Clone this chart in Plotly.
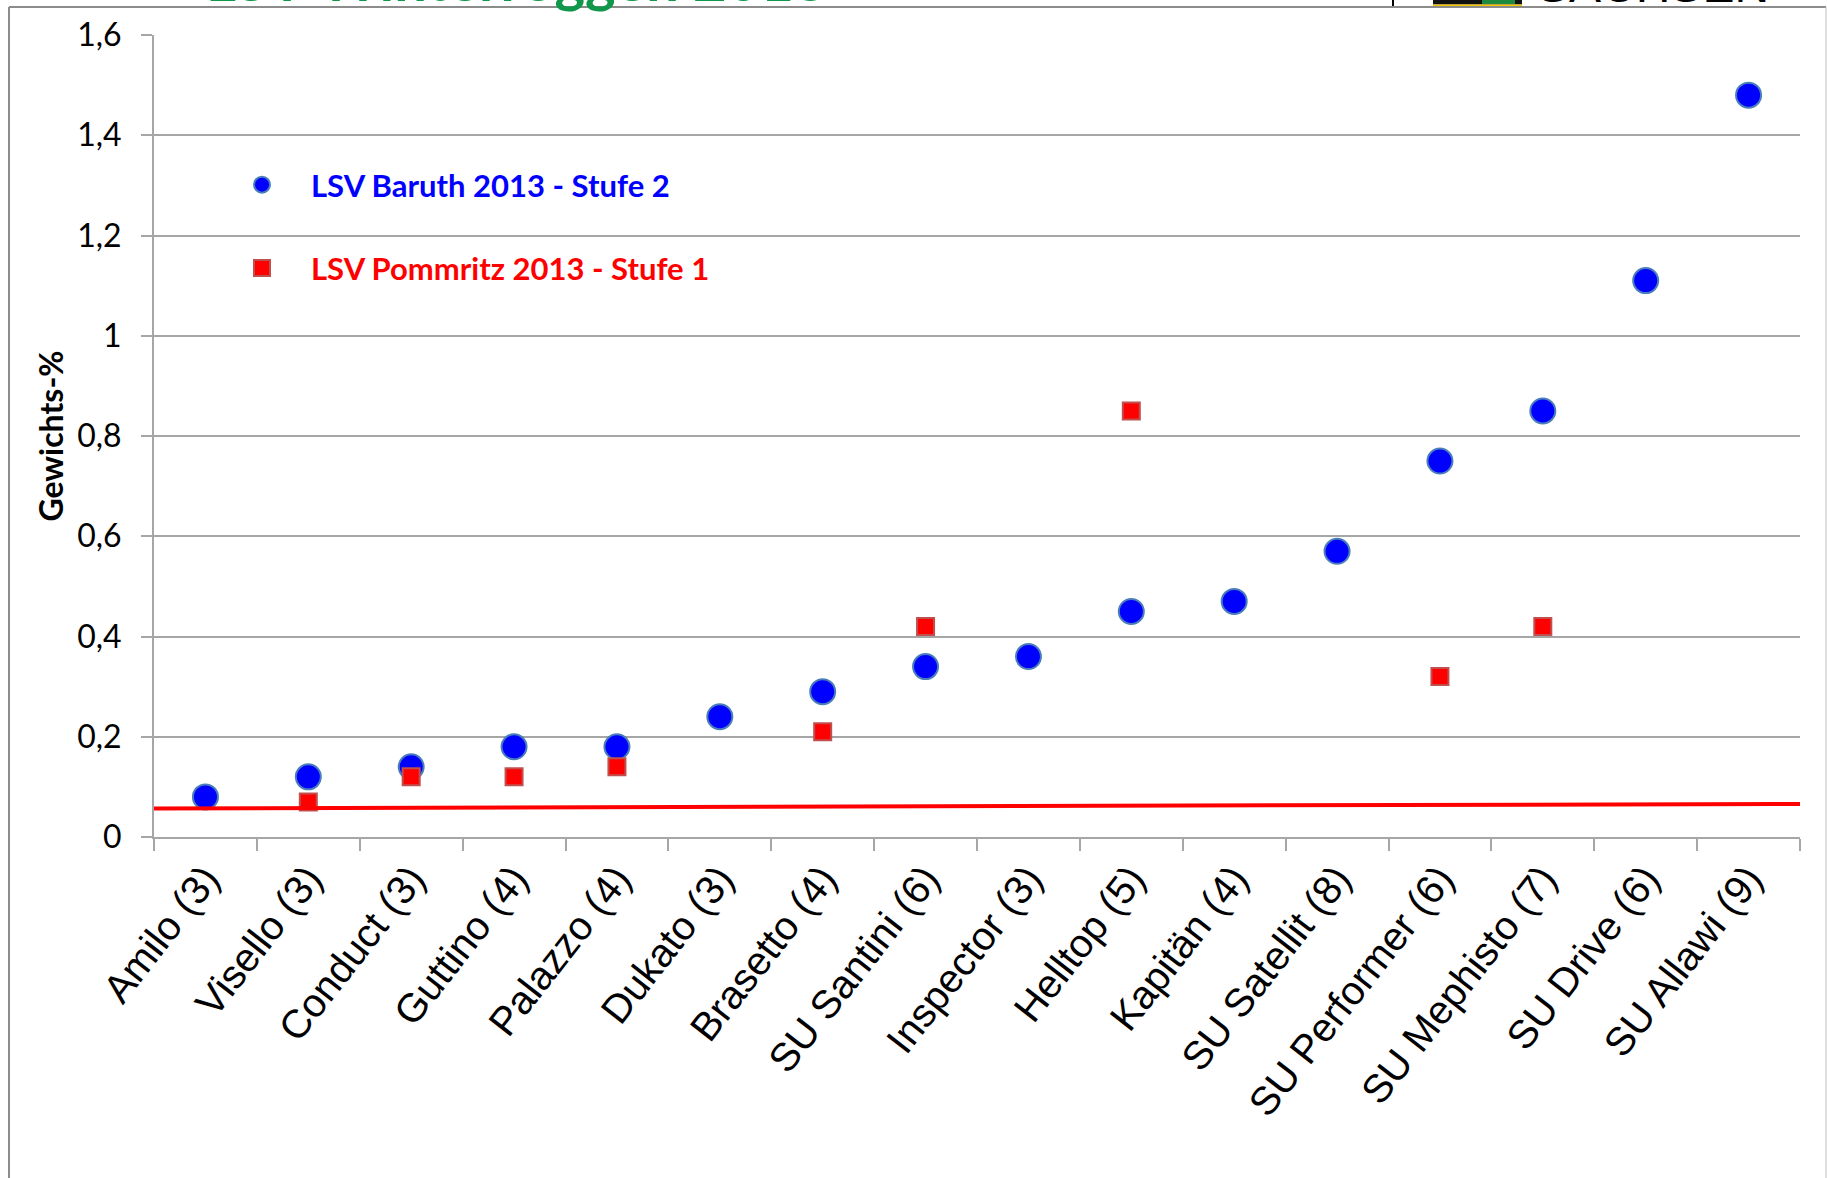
import plotly.graph_objects as go

# Sorten mit Anzahl Prüfjahre
sorten = ["Amilo (3)", "Visello (3)", "Conduct (3)", "Guttino (4)", "Palazzo (4)",
          "Dukato (3)", "Brasetto (4)", "SU Santini (6)", "Inspector (3)", "Helltop (5)",
          "Kapitän (4)", "SU Satellit (8)", "SU Performer (6)", "SU Mephisto (7)",
          "SU Drive (6)", "SU Allawi (9)"]

# Mutterkornanteil in Gewichts-%
baruth = [0.08, 0.12, 0.14, 0.18, 0.18, 0.24, 0.29, 0.34, 0.36, 0.45, 0.47, 0.57,
          0.75, 0.85, 1.11, 1.48]
pommritz = [None, 0.07, 0.12, 0.12, 0.14, None, 0.21, 0.42, None, 0.85, None, None,
            0.32, 0.42, None, None]

# Grenzlinie über die gesamte Kategorienbreite
grenz_x = [-0.5, 15.5]
grenz_y = [0.057, 0.066]

y_ticks = [0, 0.2, 0.4, 0.6, 0.8, 1.0, 1.2, 1.4, 1.6]

W, H = 1827, 1178
L, R, T, B = 154, 27, 35, 341
PW, PH = W - L - R, H - T - B


def px_x(p):
    return (p - L) / PW


def px_y(p):
    return 1 - (p - T) / PH


idx = list(range(len(sorten)))
GRID = "#A6A6A6"

fig = go.Figure()

fig.add_trace(go.Scatter(
    x=idx, y=baruth, mode="markers",
    name="<b><span style='color:#0000FF'>LSV Baruth 2013 - Stufe 2</span></b>",
    legendgroup="a",
    marker=dict(symbol="circle", size=25, color="#0000FF",
                line=dict(color="#4A7EBB", width=2)),
))

fig.add_trace(go.Scatter(
    x=idx, y=pommritz, mode="markers",
    name="<b><span style='color:#FF0000'>LSV Pommritz 2013 - Stufe 1</span></b>",
    legendgroup="b",
    marker=dict(symbol="square", size=17, color="#FF0000",
                line=dict(color="#C0504D", width=2)),
))

fig.add_trace(go.Scatter(
    x=grenz_x, y=grenz_y, mode="lines", showlegend=False,
    line=dict(color="#FF0000", width=4),
))

shapes = [
    # Rahmen des Diagramms
    dict(type="line", xref="paper", yref="paper", x0=px_x(9), x1=px_x(1826),
         y0=px_y(7), y1=px_y(7), line=dict(color="#8C8C8C", width=2)),
    dict(type="line", xref="paper", yref="paper", x0=px_x(9), x1=px_x(9),
         y0=px_y(7), y1=px_y(1200), line=dict(color="#8C8C8C", width=2)),
    dict(type="line", xref="paper", yref="paper", x0=px_x(1826), x1=px_x(1826),
         y0=px_y(7), y1=px_y(1200), line=dict(color="#BFBFBF", width=1)),
    # Kopfzeile: Trennstrich und Wappen
    dict(type="line", xref="paper", yref="paper", x0=px_x(1393), x1=px_x(1393),
         y0=px_y(-2), y1=px_y(6), line=dict(color="#000000", width=2)),
    dict(type="rect", xref="paper", yref="paper", x0=px_x(1433), x1=px_x(1522),
         y0=px_y(-2), y1=px_y(4.5), fillcolor="#111111", line=dict(width=0)),
    dict(type="rect", xref="paper", yref="paper", x0=px_x(1433), x1=px_x(1522),
         y0=px_y(4.5), y1=px_y(6), fillcolor="#F2C500", line=dict(width=0)),
    dict(type="rect", xref="paper", yref="paper", x0=px_x(1482), x1=px_x(1515),
         y0=px_y(-2), y1=px_y(4), fillcolor="#1E8A3C", line=dict(width=0)),
]

annotations = [
    dict(text="<b>LSV Winterroggen 2013</b>", xref="paper", yref="paper",
         x=px_x(204), y=px_y(15), xanchor="left", yanchor="bottom", showarrow=False,
         font=dict(family="Lato", size=58, color="#10974A")),
    dict(text="SACHSEN", xref="paper", yref="paper",
         x=px_x(1535), y=px_y(14), xanchor="left", yanchor="bottom", showarrow=False,
         font=dict(family="Liberation Sans", size=48, color="#000000")),
]

fig.update_layout(
    width=W, height=H,
    margin=dict(l=L, r=R, t=T, b=B, pad=0),
    paper_bgcolor="white", plot_bgcolor="white",
    separators=",.",
    showlegend=True,
    legend=dict(
        x=px_x(213), y=px_y(158), xanchor="left", yanchor="top",
        font=dict(family="Lato", size=31, color="#000000"),
        itemwidth=88, tracegroupgap=40, traceorder="grouped",
        bgcolor="rgba(0,0,0,0)", borderwidth=0,
    ),
    shapes=shapes,
    annotations=annotations,
    xaxis=dict(
        range=[-0.5, 15.5], tickmode="array", tickvals=idx, ticktext=sorten,
        tickangle=-52, ticks="", showgrid=False, zeroline=False,
        showline=True, linecolor=GRID, linewidth=2,
        tickfont=dict(family="Liberation Sans", size=40, color="#000000"),
        ticklabelstandoff=0,
        minor=dict(tick0=-0.5, dtick=1, ticks="outside", ticklen=12,
                   tickcolor=GRID, tickwidth=2, showgrid=False),
    ),
    yaxis=dict(
        range=[0, 1.6], tickmode="array", tickvals=y_ticks,
        showgrid=True, gridcolor=GRID, gridwidth=1.5, zeroline=False,
        showline=True, linecolor=GRID, linewidth=2,
        ticks="outside", ticklen=11, tickcolor=GRID, tickwidth=2,
        tickfont=dict(family="Lato", size=32, color="#000000"),
        ticklabelstandoff=13,
        title=dict(text="<b>Gewichts-%</b>", standoff=4,
                   font=dict(family="Lato", size=32, color="#000000")),
    ),
)

fig.write_html("out.html")
